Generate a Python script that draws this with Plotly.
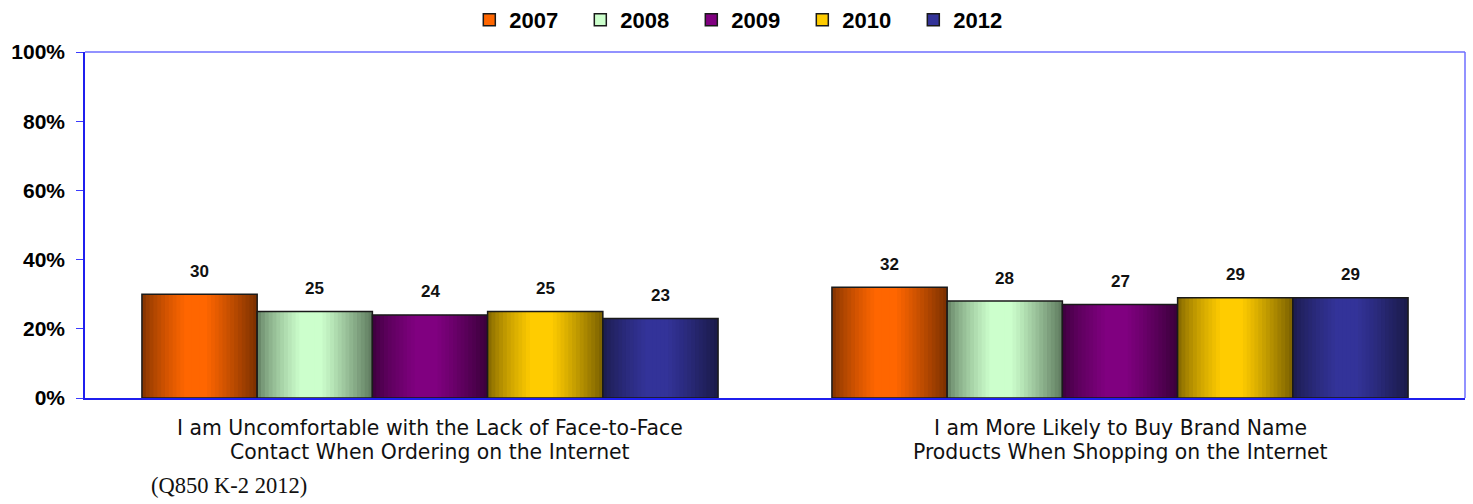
import plotly.graph_objects as go

categories = [
    "I am Uncomfortable with the Lack of Face-to-Face<br>Contact When Ordering on the Internet",
    "I am More Likely to Buy Brand Name<br>Products When Shopping on the Internet",
]
years = ["2007", "2008", "2009", "2010", "2012"]
values = {
    "2007": [30, 32],
    "2008": [25, 28],
    "2009": [24, 27],
    "2010": [25, 29],
    "2012": [23, 29],
}
center_colors = {
    "2007": "#FF6600",
    "2008": "#CCFFCC",
    "2009": "#800080",
    "2010": "#FFCC00",
    "2012": "#333399",
}
edge_colors = {
    "2007": "#7A3000",
    "2008": "#5E7A5E",
    "2009": "#3A003A",
    "2010": "#7A6000",
    "2012": "#1A1A48",
}
y_ticks = [0, 0.2, 0.4, 0.6, 0.8, 1.0]
footnote = "(Q850 K-2 2012)"

BARGAP = 0.165
N_STRIPS = 30
PLOT_H = 504 - 52 - 106


def hex2rgb(h):
    h = h.lstrip("#")
    return [int(h[i:i + 2], 16) for i in (0, 2, 4)]


def mix(c1, c2, f):
    a, b = hex2rgb(c1), hex2rgb(c2)
    return "rgb(%d,%d,%d)" % tuple(round(a[k] + (b[k] - a[k]) * f) for k in range(3))


def brightness(t):
    if t < 0.38:
        return (t / 0.38) ** 0.7
    if t < 0.55:
        return 1.0
    return 1.0 - ((t - 0.55) / 0.45) ** 1.1


group_w = 1 - BARGAP
bar_w = group_w / len(years)
xs = list(range(len(categories)))

fig = go.Figure()
annotations = []
for i, yr in enumerate(years):
    vals = [v / 100 for v in values[yr]]
    left = -group_w / 2 + i * bar_w
    sw = bar_w / N_STRIPS
    for j in range(N_STRIPS):
        t = (j + 0.5) / N_STRIPS
        w = min(sw * 2.5, bar_w - j * sw)
        fig.add_trace(go.Bar(
            x=xs, y=vals, offset=left + j * sw, width=w,
            marker=dict(color=mix(edge_colors[yr], center_colors[yr], brightness(t)),
                        line=dict(width=0)),
            showlegend=False, hoverinfo="skip",
        ))
    fig.add_trace(go.Bar(
        name=yr, x=xs, y=vals, offset=left, width=bar_w,
        marker=dict(color="rgba(0,0,0,0)", line=dict(color="#1a1a1a", width=1.5)),
        showlegend=False,
    ))
    for k, v in enumerate(values[yr]):
        annotations.append(dict(
            text=str(v), x=xs[k] + left + bar_w / 2, y=v / 100, xref="x", yref="y",
            yshift=23, xanchor="center", yanchor="middle", showarrow=False,
            font=dict(family="Liberation Sans, Arial", size=17, color="#111", weight="bold")))
    # legend entry
    fig.add_trace(go.Bar(
        name=yr, x=[None], y=[None],
        marker=dict(color=center_colors[yr], line=dict(color="#1a1a1a", width=1.5)),
        showlegend=True,
    ))

for k, cat in enumerate(categories):
    for li, line in enumerate(cat.split("<br>")):
        annotations.append(dict(
            text=line, x=xs[k], xref="x", yref="paper", y=-(30 + 24 * li) / PLOT_H,
            xanchor="center", yanchor="middle", showarrow=False,
            font=dict(family="DejaVu Sans", size=20.4, color="#111")))
annotations.append(dict(
    text=footnote, xref="paper", yref="paper", x=64 / 1380, y=-(485 - 398) / PLOT_H,
    xanchor="left", yanchor="middle", showarrow=False,
    font=dict(family="Liberation Serif", size=22.5, color="#111")))

frame_shapes = [
    dict(type="line", xref="paper", yref="paper", x0=0, x1=1, y0=1, y1=1,
         line=dict(color="#6e6eff", width=1.5)),
    dict(type="line", xref="paper", yref="paper", x0=1, x1=1, y0=0, y1=1,
         line=dict(color="#6e6eff", width=1.5)),
]

fig.update_layout(
    width=1473, height=504,
    barmode="overlay",
    plot_bgcolor="white", paper_bgcolor="white",
    margin=dict(l=85, r=8, t=52, b=106, autoexpand=False),
    showlegend=True,
    legend=dict(orientation="h", x=0.507, xanchor="center", xref="container",
                y=1 - 20 / 504, yanchor="middle", yref="container",
                bgcolor="rgba(0,0,0,0)", entrywidth=66, entrywidthmode="pixels",
                font=dict(family="Liberation Sans, Arial", size=22, color="#000", weight="bold"),
                itemwidth=30, traceorder="normal"),
    xaxis=dict(range=[-0.5, 1.5], showline=True, linecolor="#1f1fee", linewidth=1.5,
               showticklabels=False, ticks="", showgrid=False, zeroline=False,
               automargin=False),
    yaxis=dict(range=[0, 1], tickvals=y_ticks, tickformat=".0%", showgrid=False,
               showline=True, linecolor="#1f1fee", linewidth=1.5,
               ticks="outside", ticklen=7, tickcolor="#3a3aff", ticklabelstandoff=7,
               tickfont=dict(family="Liberation Sans, Arial", size=21, color="#000", weight="bold"),
               zeroline=False, automargin=False),
    annotations=annotations,
    shapes=frame_shapes,
)
fig.write_html("out.html", config={"displayModeBar": False},
               post_script="document.body.style.margin='0';")
